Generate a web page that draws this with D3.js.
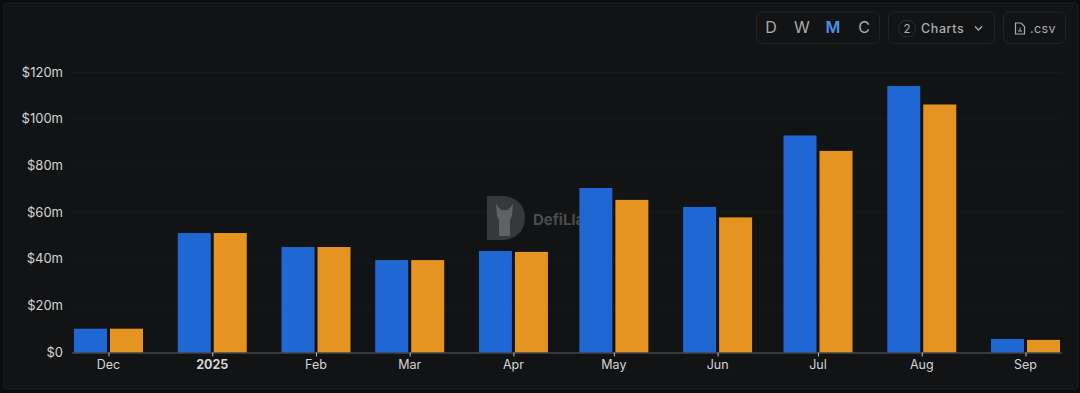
<!DOCTYPE html>
<html>
<head>
<meta charset="utf-8">
<script src="https://cdn.jsdelivr.net/npm/d3@7"></script>
<style>
  html, body { margin: 0; padding: 0; background: #0b0c0d; }
  #chart { width: 1080px; height: 393px; overflow: hidden; }
  text { font-family: Inter, "Noto Sans", sans-serif; }
</style>
</head>
<body>
<div id="chart"></div>
<script>
// Monthly values, in $m
const months = ["2024-12-01", "2025-01-01", "2025-02-01", "2025-03-01", "2025-04-01",
    "2025-05-01", "2025-06-01", "2025-07-01", "2025-08-01", "2025-09-01"];
const monthLabels = ["Dec", "2025", "Feb", "Mar", "Apr", "May", "Jun", "Jul", "Aug", "Sep"];
const blueValues = [10.2, 51.2, 45.2, 39.6, 43.5, 70.5, 62.4, 93, 114.2, 5.8];
const orangeValues = [10.2, 51.2, 45.2, 39.6, 43.1, 65.4, 57.9, 86.4, 106.3, 5.4];
const yTicks = [0, 20, 40, 60, 80, 100, 120];
const periods = ["D", "W", "M", "C"];

const width = 1080, height = 393;
const dates = months.map(d => new Date(d + "T00:00:00Z"));

const svg = d3.select("#chart").append("svg")
    .attr("width", width)
    .attr("height", height);

// Panel
svg.append("rect")
    .attr("x", 4).attr("y", 3)
    .attr("width", 1074).attr("height", 386)
    .attr("rx", 3)
    .attr("fill", "#121315")
    .attr("stroke", "#1d1e20");

const x = d3.scaleUtc().domain([dates[0], dates[9]]).range([108.5, 1025.5]);
const y = d3.scaleLinear().domain([0, 120]).range([352.5, 72.5]);

// Grid lines
svg.append("g").selectAll("line")
    .data(yTicks.slice(1))
    .enter().append("line")
    .attr("x1", 72).attr("x2", 1062)
    .attr("y1", d => y(d)).attr("y2", d => y(d))
    .attr("stroke", "#18191b");

// Y labels
svg.append("g").selectAll("text")
    .data(yTicks)
    .enter().append("text")
    .attr("x", 63)
    .attr("y", d => y(d) - 0.5)
    .attr("dy", "0.35em")
    .attr("text-anchor", "end")
    .attr("font-family", "Roboto, sans-serif")
    .attr("font-size", 13)
    .attr("fill", "#d3d4d5")
    .text(d => d === 0 ? "$0" : `$${d}m`);

// Watermark sits under the bars
const mark = svg.append("g").attr("transform", "translate(487,196)");
mark.append("path")
    .attr("d", "M0,0 H14 C30,0 38,10 38,22 C38,34 30,44 14,44 H0 Z")
    .attr("fill", "#37383a");
mark.append("path")
    .attr("d", "M9,8 L14,14 H21 L26,8 L25,20 L23,24 V40 H12 V24 L10,20 Z")
    .attr("fill", "#606163");
mark.append("text")
    .attr("x", 46).attr("y", 29)
    .attr("font-family", "'DejaVu Sans', sans-serif")
    .attr("font-size", 15)
    .attr("font-weight", 700)
    .attr("fill", "#4a4b4d")
    .text("DefiLlama");

// Bars
const barWidth = 33;
const barGap = 3;
svg.append("g").selectAll("rect")
    .data(blueValues)
    .enter().append("rect")
    .attr("x", (d, i) => x(dates[i]) - barWidth - barGap / 2)
    .attr("y", d => y(d))
    .attr("width", barWidth)
    .attr("height", d => y(0) - y(d))
    .attr("fill", "#1f67d2");
svg.append("g").selectAll("rect")
    .data(orangeValues)
    .enter().append("rect")
    .attr("x", (d, i) => x(dates[i]) + barGap / 2)
    .attr("y", d => y(d))
    .attr("width", barWidth)
    .attr("height", d => y(0) - y(d))
    .attr("fill", "#e59421");

// X axis
const xAxis = svg.append("g")
    .attr("transform", `translate(0,${y(0)})`)
    .call(d3.axisBottom(x)
        .tickValues(dates)
        .tickFormat((d, i) => monthLabels[i])
        .tickSize(4)
        .tickPadding(4));
xAxis.select(".domain").attr("d", "M72,0.5H1062").attr("stroke", "#5c5e62");
xAxis.selectAll("line").attr("stroke", "#b9babb");
xAxis.selectAll("text")
    .attr("font-family", "Roboto, sans-serif")
    .attr("font-size", 12.5)
    .attr("dx", -0.5)
    .attr("fill", "#d3d4d5")
    .attr("font-weight", (d, i) => monthLabels[i] === "2025" ? 700 : 400);

// Toolbar
function box(bx, w) {
    svg.append("rect")
        .attr("x", bx).attr("y", 12)
        .attr("width", w).attr("height", 31.5)
        .attr("rx", 6)
        .attr("fill", "none")
        .attr("stroke", "#212327");
}
box(756.5, 123);
box(888.5, 106);
box(1003.5, 62);

const periodX = d3.scalePoint().domain(periods).range([771, 864]);
svg.append("g").selectAll("text")
    .data(periods)
    .enter().append("text")
    .attr("x", d => periodX(d))
    .attr("y", 27.5)
    .attr("dy", "0.35em")
    .attr("text-anchor", "middle")
    .attr("font-size", 16)
    .attr("font-weight", d => d === "M" ? 600 : 400)
    .attr("fill", d => d === "M" ? "#4f8fea" : "#a9abae")
    .text(d => d);

svg.append("circle")
    .attr("cx", 907).attr("cy", 28.5).attr("r", 8.5)
    .attr("fill", "none").attr("stroke", "#2c2e32");
svg.append("text")
    .attr("x", 907).attr("y", 28.5).attr("dy", "0.35em")
    .attr("text-anchor", "middle")
    .attr("font-size", 11.5).attr("fill", "#a9abae")
    .text("2");
svg.append("text")
    .attr("x", 921).attr("y", 28.5).attr("dy", "0.35em")
    .attr("font-size", 12.5).attr("font-weight", 500).attr("fill", "#a9abae")
    .attr("letter-spacing", 0.6)
    .text("Charts");
svg.append("path")
    .attr("d", "M975,26.5 L978.5,30 L982,26.5")
    .attr("fill", "none").attr("stroke", "#a9abae").attr("stroke-width", 1.3);

// File icon + label
svg.append("path")
    .attr("d", "M1015.5,23 H1021 L1024.5,26.5 V34 H1015.5 Z")
    .attr("fill", "none").attr("stroke", "#a9abae").attr("stroke-width", 1.2);
svg.append("path")
    .attr("d", "M1018,31 L1022,31 M1020,27.5 V31")
    .attr("fill", "none").attr("stroke", "#a9abae");
svg.append("text")
    .attr("x", 1030).attr("y", 28.5).attr("dy", "0.35em")
    .attr("font-size", 12.5).attr("fill", "#a9abae")
    .attr("letter-spacing", 0.4)
    .text(".csv");
</script>
</body>
</html>
